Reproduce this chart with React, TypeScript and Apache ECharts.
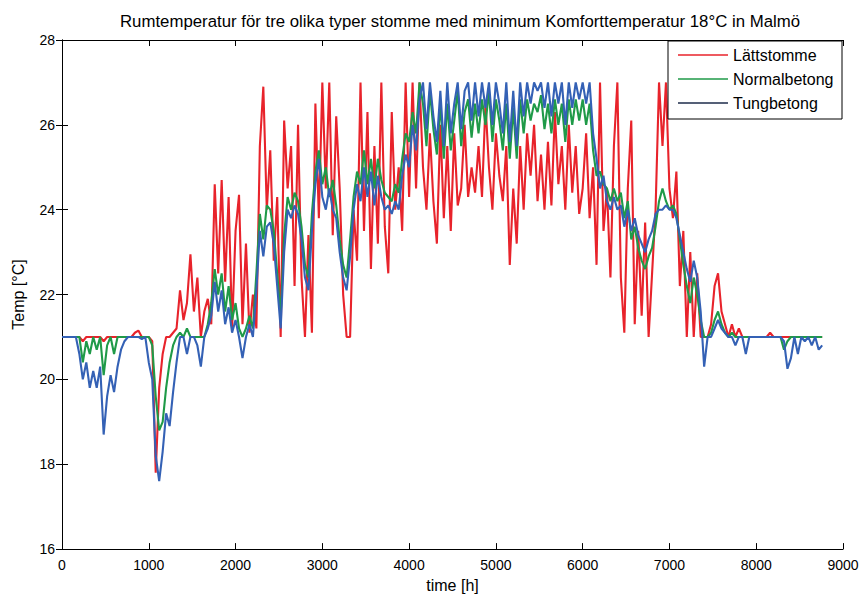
import React, { useEffect, useRef } from "react";
import * as echarts from "echarts";

// Sampling interval of the series (hours between points)
const STEP_H = 40;

const xTicks = [0, 1000, 2000, 3000, 4000, 5000, 6000, 7000, 8000, 9000];
const yTicks = [16, 18, 20, 22, 24, 26, 28];

const seriesNames = ["Lättstomme", "Normalbetong", "Tungbetong"];

// Lättstomme (red)
const lattstomme = [
  21, 21, 21, 21, 21, 21, 20.9, 21, 21, 21,
  21, 21, 20.9, 21, 21, 21, 21, 21, 21, 21,
  21, 21.1, 21.15, 21, 21, 21, 20.9, 17.8, 19.8, 20.6,
  21, 21, 21.1, 21.2, 22.1, 21.4, 21.8, 22.95, 21.6, 22.4,
  21, 21.6, 21.9, 21.3, 24.6, 22.5, 24.7, 22.3, 24.3, 21.2,
  23.5, 24.35, 21.3, 23.2, 21.1, 22.0, 21.2, 25.5, 26.9, 24.0,
  25.4, 22.8, 24.3, 21.0, 26.1, 24.5, 25.5, 22.2, 26.0, 22.4,
  21.0, 23.4, 21.1, 26.5, 23.8, 27.0, 24.5, 27.0, 23.4, 26.2,
  24.5, 22.0, 21.0, 21.0, 24.0, 22.8, 27.0, 23.5, 26.3, 22.6,
  25.5, 23.2, 27.0, 23.6, 22.5, 26.3, 24.0, 25.0, 23.5, 27.0,
  24.3, 27.0, 24.5, 27.0, 25.0, 24.0, 25.8, 24.2, 23.2, 26.0,
  23.8, 25.5, 23.5, 25.8, 24.1, 24.5, 26.0, 24.3, 25.0, 24.4,
  25.5, 24.3, 26.5, 25.0, 24.0, 25.8, 24.8, 24.2, 25.5, 22.7,
  24.5, 23.2, 25.5, 24.0, 25.8, 24.8, 26.0, 24.2, 25.3, 24.0,
  25.6, 24.1, 26.3, 24.6, 25.5, 24.0, 26.0, 24.4, 25.5, 23.9,
  24.5, 25.8, 23.8, 25.0, 22.7, 27.0, 23.5, 24.5, 22.4, 25.5,
  27.0, 22.4, 21.1, 24.5, 26.1, 21.3, 23.5, 21.5, 23.7, 21.0,
  22.5, 24.0, 27.0, 25.5, 27.0, 24.5, 23.8, 24.9, 22.2, 23.5,
  21.0, 23.0, 21.0, 22.5, 21.0, 21.0, 21.0, 21.3, 22.2, 22.5,
  21.6, 21.3, 21.0, 21.3, 21.0, 21.2, 21.0, 21.0, 21.0, 21.0,
  21.0, 21.0, 21.0, 21.0, 21.1, 21.0, 21.0, 21.0, 21.0, 21.0,
  21.0, 21.0, 21.0, 21.0, 21.0, 21.0, 21.0, 21.0, 21.0, 21.0,
];

// Normalbetong (green)
const normalbetong = [
  21, 21, 21, 21, 21, 21, 20.4, 20.9, 20.6, 21,
  20.7, 21, 20.1, 20.8, 21, 20.6, 21, 21, 21, 21,
  21, 21, 21, 21, 21, 21, 20.8, 19.6, 18.8, 19.0,
  19.8, 20.4, 20.8, 21, 21.1, 21, 21.2, 21, 21, 21,
  21, 21, 21.3, 21.8, 22.6, 22.0, 22.5, 21.6, 22.2, 21.4,
  21.8, 21.2, 21.0, 21.2, 21.5, 21.2, 22.5, 23.9, 23.3, 24.1,
  24.0, 23.5, 22.5, 21.5, 23.4, 24.3, 24.0, 24.4, 24.2, 23.6,
  22.7, 22.4, 23.9, 24.9, 25.4, 24.6, 25.0, 24.3, 24.7, 24.1,
  23.3, 22.7, 22.4, 23.3, 24.3, 24.9, 24.6, 25.4, 24.6, 25.2,
  24.5, 25.2, 24.7, 24.4, 24.3, 24.2, 24.6, 24.4, 25.2, 25.8,
  25.6, 26.3, 25.8, 27.0, 26.5, 25.5, 26.8, 25.9, 25.3, 26.5,
  25.2, 26.5, 25.4, 26.1, 26.8, 25.5, 26.3, 26.6, 25.7, 26.5,
  25.8, 26.6, 26.0, 26.8, 25.6, 26.6, 26.1, 25.4, 26.5, 25.2,
  26.4, 25.2, 26.6, 25.8, 26.6, 26.1, 26.5, 26.3, 26.7, 25.9,
  26.5, 25.8, 26.6, 26.0, 26.5, 25.6, 26.6, 26.0, 26.6, 26.1,
  26.6, 26.0, 26.5, 25.4, 24.8, 24.9, 24.6, 24.5, 24.2, 24.5,
  24.2, 24.4, 23.8, 24.2, 23.3, 23.6, 23.1, 22.8, 22.6, 22.9,
  23.1, 23.6, 24.2, 24.5, 24.2, 24.0, 24.1, 23.9, 23.3, 22.7,
  22.2, 21.8, 22.4, 22.0, 21.4, 21.0, 21.0, 21.1, 21.4, 21.6,
  21.3, 21.1, 21.0, 21.1, 21.0, 21.0, 21.0, 21.0, 21.0, 21.0,
  21.0, 21.0, 21.0, 21.0, 21.0, 21.0, 21.0, 21.0, 20.7, 20.9,
  21.0, 21.0, 21.0, 21.0, 21.0, 21.0, 21.0, 21.0, 21.0, 21.0,
];

// Tungbetong (blue)
const tungbetong = [
  21, 21, 21, 21, 21, 20.6, 20.0, 20.4, 19.8, 20.2,
  19.8, 20.3, 18.7, 19.6, 20.1, 19.7, 20.3, 20.7, 20.9, 21,
  21, 21, 21, 20.95, 21, 20.4, 20.0, 18.2, 17.6, 18.3,
  19.2, 18.9, 19.7, 20.4, 21, 21, 20.6, 21, 21, 20.8,
  20.3, 21, 21.2, 21.5, 22.3, 21.6, 22.1, 21.3, 21.7, 21.1,
  21.4, 21.0, 20.5, 21.0, 21.3, 21.0, 22.1, 23.5, 22.9, 23.6,
  23.7, 23.2, 22.2, 21.2, 23.0, 24.0, 23.8, 24.1, 23.9, 23.3,
  22.4, 22.1, 23.5, 24.6, 25.2, 24.3, 24.0, 24.5, 24.0, 23.8,
  23.0, 22.4, 22.1, 22.9, 24.0, 24.6, 24.2, 25.0, 24.3, 24.9,
  24.1, 24.8, 24.3, 24.0, 24.1, 23.9, 24.2, 24.0, 24.8, 25.3,
  25.0, 26.0, 25.4, 26.6, 27.0, 25.9, 27.0, 26.2, 25.6, 26.8,
  25.5, 27.0, 25.8, 26.5, 27.0, 25.9, 26.8, 27.0, 26.1, 27.0,
  26.2, 27.0, 26.4, 27.0, 26.0, 27.0, 26.5, 25.8, 27.0, 25.6,
  26.8, 25.5, 27.0, 26.2, 27.0, 26.5, 27.0, 26.8, 27.0, 26.4,
  27.0, 26.2, 27.0, 26.5, 27.0, 26.0, 27.0, 26.4, 27.0, 26.6,
  27.0, 26.5, 27.0, 25.8, 25.2, 24.5, 24.8, 24.2, 24.0, 24.3,
  24.0, 24.1, 23.6, 24.0, 23.5, 23.8, 23.4, 23.2, 23.0, 23.3,
  23.5, 23.9, 24.0, 24.0, 24.1, 24.0, 24.0, 23.8, 23.4, 23.0,
  22.6, 22.3, 22.8, 22.4, 21.6, 20.3, 21.0, 21.0, 21.2, 21.4,
  21.2, 21.1, 21.0, 21.0, 20.8, 21.0, 21.0, 20.6, 21.0, 21.0,
  21.0, 21.0, 21.0, 21.0, 21.0, 21.0, 21.0, 21.0, 20.9, 20.25,
  20.5, 21.0, 20.6, 21.0, 20.9, 21.0, 20.8, 21.0, 20.7, 20.8,
];

const colors = ["#e8232b", "#1f9a48", "#3461b5"];
const legendColors = ["#e8232b", "#1f9a48", "#1c2b4a"];

const FONT = "Liberation Sans, Arial, sans-serif";

export default function App() {
  const ref = useRef<HTMLDivElement>(null);

  useEffect(() => {
    if (!ref.current) return;
    const chart = echarts.init(ref.current, undefined, { renderer: "svg" });
    const toPairs = (vals: number[]) => vals.map((v, i) => [i * STEP_H, v]);
    const all = [lattstomme, normalbetong, tungbetong];

    const axisCommon = {
      axisLine: { show: true, lineStyle: { color: "#000", width: 1 } },
      axisTick: { show: true, inside: true, length: 6, lineStyle: { color: "#000" } },
      splitLine: { show: false },
    };

    const legendTop = 55;
    const legendGap = 24;
    const legendGraphics: any[] = [
      {
        type: "rect",
        shape: { x: 668, y: 41, width: 174, height: 78 },
        style: { fill: "#fff", stroke: "#000", lineWidth: 1 },
        z: 100,
      },
    ];
    seriesNames.forEach((name, i) => {
      const y = legendTop + i * legendGap;
      legendGraphics.push({
        type: "line",
        shape: { x1: 678, y1: y, x2: 728, y2: y },
        style: { stroke: legendColors[i], lineWidth: 1.3 },
        z: 101,
      });
      legendGraphics.push({
        type: "text",
        x: 733,
        y: y,
        style: {
          text: name,
          fill: "#000",
          font: `16px ${FONT}`,
          verticalAlign: "middle",
        },
        z: 101,
      });
    });

    chart.setOption({
      animation: false,
      backgroundColor: "#fff",
      title: {
        text: "Rumtemperatur för tre olika typer stomme med minimum Komforttemperatur 18°C in Malmö",
        left: 455,
        top: 8,
        textAlign: "center",
        textStyle: { fontFamily: FONT, fontSize: 16.8, fontWeight: "normal", color: "#000" },
      },
      grid: { left: 62, right: 21, top: 40, bottom: 42, containLabel: false },
      xAxis: [
        {
          type: "value",
          min: xTicks[0],
          max: xTicks[xTicks.length - 1],
          interval: 1000,
          name: "time [h]",
          nameLocation: "middle",
          nameGap: 24,
          nameTextStyle: { fontFamily: FONT, fontSize: 16, color: "#000" },
          axisLabel: {
            fontFamily: FONT,
            fontSize: 14,
            color: "#000",
            margin: 9,
            formatter: (v: number) => String(v),
          },
          ...axisCommon,
        },
        {
          type: "value",
          position: "top",
          min: xTicks[0],
          max: xTicks[xTicks.length - 1],
          interval: 1000,
          axisLabel: { show: false },
          ...axisCommon,
        },
      ],
      yAxis: [
        {
          type: "value",
          min: yTicks[0],
          max: yTicks[yTicks.length - 1],
          interval: 2,
          name: "Temp [°C]",
          nameLocation: "middle",
          nameGap: 36,
          nameRotate: 90,
          nameTextStyle: { fontFamily: FONT, fontSize: 16, color: "#000" },
          axisLabel: { fontFamily: FONT, fontSize: 14, color: "#000", margin: 7 },
          ...axisCommon,
        },
        {
          type: "value",
          position: "right",
          min: yTicks[0],
          max: yTicks[yTicks.length - 1],
          interval: 2,
          axisLabel: { show: false },
          ...axisCommon,
        },
      ],
      series: all.map((vals, i) => ({
        name: seriesNames[i],
        type: "line",
        data: toPairs(vals),
        showSymbol: false,
        symbol: "none",
        lineStyle: { color: colors[i], width: 2.1 },
        itemStyle: { color: colors[i] },
        z: 2 + i,
      })),
      graphic: legendGraphics,
    });

    return () => chart.dispose();
  }, []);

  return <div ref={ref} style={{ width: 864, height: 598, position: "absolute", left: 0, top: 0 }} />;
}
